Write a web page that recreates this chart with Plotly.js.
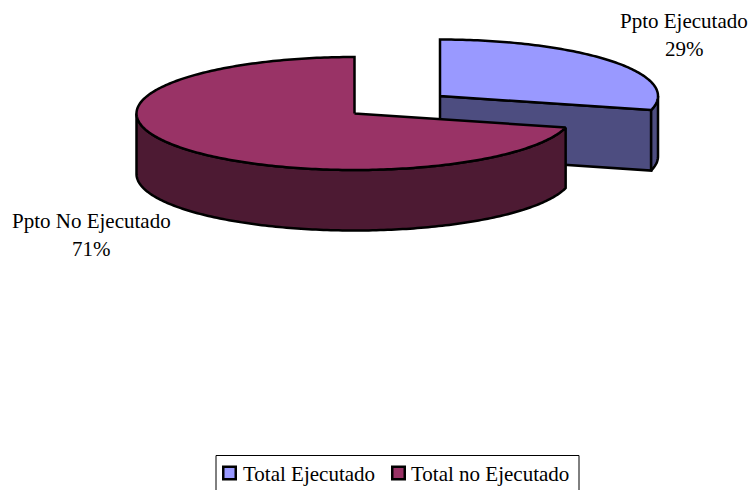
<!DOCTYPE html>
<html><head><meta charset="utf-8">
<script src="https://cdn.plot.ly/plotly-3.0.1.min.js"></script>
<style>html,body{margin:0;padding:0;background:#fff}#c{width:752px;height:490px}</style>
</head><body><div id="c"></div>
<script>
const legendNames = ['Total Ejecutado', 'Total no Ejecutado'];
const sliceLabels = ['Ppto Ejecutado', 'Ppto No Ejecutado'];
const values = [29, 71];
const topColors = ['#9999FF', '#993366'];
const sideColors = ['#4D4D80', '#4D1A33'];

const total = values.reduce((a, b) => a + b, 0);
const RX = 218, RY = 56.5, DEPTH = 60.5;
const blueC = [440, 96], redC = [354.5, 113.5];
const pt = (c, deg, dy = 0) => {
  const r = deg * Math.PI / 180;
  return [c[0] + RX * Math.sin(r), c[1] - RY * Math.cos(r) + dy];
};
const arc = (c, a, b, dy = 0) => {
  const out = [], n = Math.max(2, Math.ceil(Math.abs(b - a)));
  for (let i = 0; i <= n; i++) out.push(pt(c, a + (b - a) * i / n, dy));
  return out;
};
const poly = (pts, fill, name) => ({
  type: 'scatter', mode: 'lines', name, x: pts.map(p => p[0]), y: pts.map(p => p[1]),
  fill: 'toself', fillcolor: fill, line: {color: '#000', width: 2.5, simplify: false},
  hoverinfo: 'skip', showlegend: false
});
const split = values[0] / total * 360;

const traces = [];
traces.push(poly([blueC, pt(blueC, split), pt(blueC, split, DEPTH), [blueC[0], blueC[1] + DEPTH], blueC], sideColors[0], legendNames[0]));
traces.push(poly([...arc(blueC, split, 90), ...arc(blueC, 90, split, DEPTH), pt(blueC, split)], sideColors[0], legendNames[0]));
traces.push(poly([blueC, ...arc(blueC, 0, split), blueC], topColors[0], legendNames[0]));
traces.push(poly([...arc(redC, split, 270), ...arc(redC, 270, split, DEPTH), pt(redC, split)], sideColors[1], legendNames[1]));
traces.push(poly([redC, ...arc(redC, split, 360), redC], topColors[1], legendNames[1]));

// legend key: swatches and labels
const swatchX = [229.5, 398.5], labelX = [241, 409], legendY = 473;
legendNames.forEach((n, i) => traces.push({
  type: 'scatter', mode: 'markers', x: [swatchX[i]], y: [legendY], name: n,
  marker: {symbol: 'square', size: 12.5, color: topColors[i], line: {color: '#000', width: 2.5}},
  hoverinfo: 'skip', showlegend: false
}));

const font = {family: '"Liberation Serif", serif', size: 21, color: '#000'};
const ann = (x, y, text, xanchor = 'center') => ({x, y, text, xref: 'x', yref: 'y', showarrow: false, font, xanchor, yanchor: 'middle'});
const layout = {
  width: 752, height: 490, margin: {l: 0, r: 0, t: 0, b: 0},
  paper_bgcolor: '#fff', plot_bgcolor: '#fff',
  xaxis: {range: [0, 752], visible: false, fixedrange: true},
  yaxis: {range: [490, 0], visible: false, fixedrange: true},
  annotations: [
    ann(684, 21, sliceLabels[0]), ann(684, 49, values[0] + '%'),
    ann(91, 221, sliceLabels[1]), ann(91, 249, values[1] + '%'),
    ann(labelX[0], 474, legendNames[0], 'left'), ann(labelX[1], 474, legendNames[1], 'left')
  ],
  shapes: [{type: 'rect', xref: 'x', yref: 'y', x0: 216, x1: 579, y0: 455.5, y1: 520, line: {color: '#000', width: 1}, fillcolor: 'rgba(0,0,0,0)'}],
  showlegend: false
};
Plotly.newPlot('c', traces, layout, {displayModeBar: false, staticPlot: true});
</script></body></html>
